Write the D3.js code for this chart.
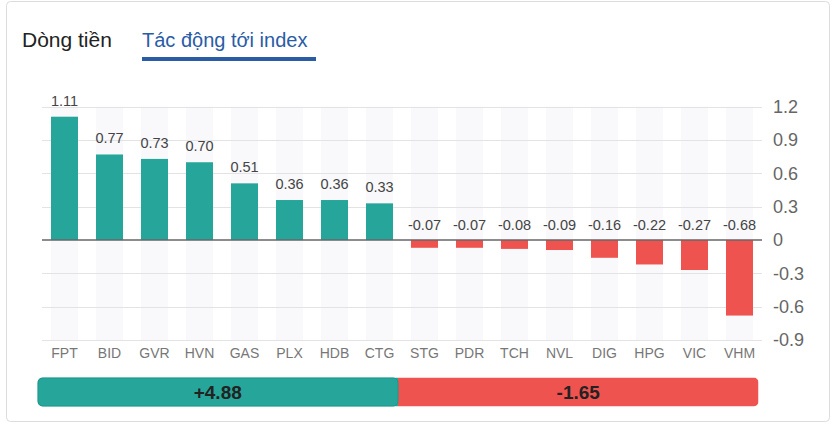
<!DOCTYPE html>
<html><head><meta charset="utf-8">
<script src="https://cdn.jsdelivr.net/npm/d3@7"></script>
<style>
html,body{margin:0;padding:0;background:#fff;}
svg{display:block;font-family:Arial,"Liberation Sans",sans-serif;}
</style></head>
<body>
<svg id="c" width="835" height="426"></svg>
<script>
const categories = ["FPT","BID","GVR","HVN","GAS","PLX","HDB","CTG","STG","PDR","TCH","NVL","DIG","HPG","VIC","VHM"];
const values = [1.11,0.77,0.73,0.70,0.51,0.36,0.36,0.33,-0.07,-0.07,-0.08,-0.09,-0.16,-0.22,-0.27,-0.68];
const yTicks = [1.2,0.9,0.6,0.3,0,-0.3,-0.6,-0.9];
const tabs = ["Dòng tiền","Tác động tới index"];
const totals = [4.88,-1.65];

const GREEN = "#26a69a", RED = "#ef5350";
const svg = d3.select("#c");
const fix = s => s.replace("\u2212","-");

// card
svg.append("rect").attr("x",6.5).attr("y",1.5).attr("width",823).attr("height",420)
  .attr("rx",4).attr("fill","#fff").attr("stroke","#dcdcdc");

// tabs
svg.append("text").attr("x",22).attr("y",47).attr("font-size",21).attr("fill","#222").text(tabs[0]);
svg.append("text").attr("x",142).attr("y",47).attr("font-size",20).attr("fill","#2a5ca6").text(tabs[1]);
svg.append("rect").attr("x",142).attr("y",57).attr("width",174).attr("height",4).attr("fill","#2a5ca6");

const x = d3.scaleBand().domain(categories).range([42,762]).paddingInner(0.4).paddingOuter(0.2);
const y = d3.scaleLinear().domain([-0.9,1.2]).range([340,106.7]);

// stripes
svg.append("g").selectAll("rect").data(categories).join("rect")
  .attr("x",d=>x(d)).attr("width",x.bandwidth())
  .attr("y",y(1.2)).attr("height",y(-0.9)-y(1.2)).attr("fill","#f9f9fb");

// grid
svg.append("g").selectAll("line").data(yTicks.filter(t=>t!==0)).join("line")
  .attr("x1",42).attr("x2",762).attr("y1",d=>Math.round(y(d))+0.5).attr("y2",d=>Math.round(y(d))+0.5)
  .attr("stroke","#e3e3e6").attr("stroke-width",1);

// right axis
const yAxis = d3.axisRight(y).tickValues(yTicks).tickSize(0).tickPadding(0)
  .tickFormat(d=>d===0?"0":fix(d3.format(".1f")(d)));
const ga = svg.append("g").attr("transform","translate(773,0)").call(yAxis);
ga.select(".domain").remove();
ga.selectAll("text").attr("font-size",18).attr("fill","#666").attr("font-family","Arial,'Liberation Sans',sans-serif");

// bars
svg.append("g").selectAll("rect").data(values).join("rect")
  .attr("x",(d,i)=>x(categories[i])).attr("width",x.bandwidth())
  .attr("y",d=>d>=0?y(d):y(0)).attr("height",d=>Math.abs(y(d)-y(0)))
  .attr("fill",d=>d>=0?GREEN:RED);

// zero line
svg.append("line").attr("x1",42).attr("x2",762).attr("y1",y(0)).attr("y2",y(0))
  .attr("stroke","#666").attr("stroke-width",1.3);

// value labels
svg.append("g").selectAll("text").data(values).join("text")
  .attr("x",(d,i)=>x(categories[i])+x.bandwidth()/2)
  .attr("y",d=>d>=0?y(d)-11:y(0)-10)
  .attr("text-anchor","middle").attr("font-size",14.5).attr("fill","#444")
  .text(d=>fix(d3.format(".2f")(d)));

// x axis labels
const xAxis = d3.axisBottom(x).tickSize(0).tickPadding(0);
const gx = svg.append("g").attr("transform","translate(0,348)").call(xAxis);
gx.select(".domain").remove();
gx.selectAll("text").attr("font-size",14).attr("fill","#777").attr("font-family","Arial,'Liberation Sans',sans-serif");

// totals bar
const bx = d3.scaleBand().domain([0,1]).range([37.5,758.5]);
const clip = svg.append("defs").append("clipPath").attr("id","bc");
clip.append("rect").attr("x",37.5).attr("y",377.5).attr("width",721).attr("height",29).attr("rx",5);
const gb = svg.append("g").attr("clip-path","url(#bc)");
gb.selectAll("rect").data(totals).join("rect")
  .attr("x",(d,i)=>bx(i)).attr("width",bx.bandwidth()).attr("y",377.5).attr("height",29)
  .attr("fill",d=>d>=0?GREEN:RED);
svg.append("rect").attr("x",38).attr("y",378).attr("width",bx.bandwidth()-0.5).attr("height",28).attr("rx",5)
  .attr("fill","none").attr("stroke","#1f978b").attr("stroke-width",1);
svg.append("g").selectAll("text").data(totals).join("text")
  .attr("x",(d,i)=>bx(i)+bx.bandwidth()/2).attr("y",398.5)
  .attr("text-anchor","middle").attr("font-size",19).attr("font-weight","bold").attr("fill","#222")
  .text(d=>(d>=0?"+":"")+fix(d3.format(".2f")(d)));
</script>
</body></html>
